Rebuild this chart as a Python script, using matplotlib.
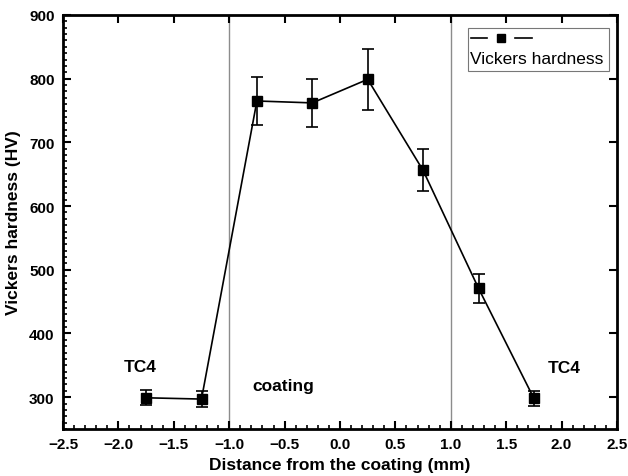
import numpy as np
import matplotlib.pyplot as plt
from matplotlib.ticker import MultipleLocator
from matplotlib.patches import Rectangle

plt.rcParams['font.family'] = ['Liberation Sans', 'DejaVu Sans']

# Data
distance = [-1.75, -1.25, -0.75, -0.25, 0.25, 0.75, 1.25, 1.75]
hardness = [299, 297, 765, 762, 799, 656, 471, 298]
hardness_err = [12, 12, 38, 38, 48, 33, 23, 12]
boundaries = [-1.0, 1.0]

fig = plt.figure(figsize=(6.28, 4.77), dpi=100)
ax = fig.add_axes([63 / 628, 1 - 430 / 477, 554 / 628, 414 / 477])

# coating boundaries
for b in boundaries:
    ax.axvline(b, color='#8c8c8c', lw=1.0, zorder=1)

ax.errorbar(distance, hardness, yerr=hardness_err, color='black', lw=1.2,
            marker='s', ms=6.5, elinewidth=1.2, capsize=4, capthick=1.2, zorder=3)

ax.set_xlim(-2.5, 2.5)
ax.set_ylim(250, 900)
ax.xaxis.set_major_locator(MultipleLocator(0.5))
ax.xaxis.set_minor_locator(MultipleLocator(0.1))
ax.yaxis.set_major_locator(MultipleLocator(100))
ax.yaxis.set_minor_locator(MultipleLocator(10))
ax.tick_params(which='major', direction='in', length=6, width=1.5,
               top=True, right=True, labelsize=11, pad=6)
ax.tick_params(which='minor', direction='in', length=3, width=1.2,
               top=False, right=False)
for lab in ax.get_xticklabels() + ax.get_yticklabels():
    lab.set_fontweight('bold')
for s in ax.spines.values():
    s.set_linewidth(2)

ax.set_xlabel('Distance from the coating (mm)', fontsize=12.5, fontweight='bold', labelpad=4)
ax.set_ylabel('Vickers hardness (HV)', fontsize=12.5, fontweight='bold', labelpad=6)

ax.text(-1.8, 348, 'TC4', fontsize=12.5, fontweight='bold', ha='center', va='center')
ax.text(2.02, 346, 'TC4', fontsize=12.5, fontweight='bold', ha='center', va='center')
ax.text(-0.51, 318, 'coating', fontsize=12.5, fontweight='bold', ha='center', va='center')

# legend box: handle above the label
x0, y0, x1, y1 = (468 - 63) / 554, (430 - 72) / 414, (609 - 63) / 554, (430 - 29) / 414
ax.add_patch(Rectangle((x0, y0), x1 - x0, y1 - y0, transform=ax.transAxes,
                       fill=False, edgecolor='#777777', lw=0.8, zorder=5))
hy = (430 - 39) / 414
ax.plot([x0 + 0.005, x0 + 0.035], [hy, hy], transform=ax.transAxes, color='black', lw=1.2, zorder=6)
ax.plot([x0 + 0.06], [hy], transform=ax.transAxes, color='black', marker='s', ms=6, zorder=6)
ax.plot([x0 + 0.085, x0 + 0.115], [hy, hy], transform=ax.transAxes, color='black', lw=1.2, zorder=6)
ax.text(x0 + 0.004, (430 - 60) / 414, 'Vickers hardness', transform=ax.transAxes,
        fontsize=12.5, ha='left', va='center', zorder=6)

fig.savefig('out.png', dpi=100)
